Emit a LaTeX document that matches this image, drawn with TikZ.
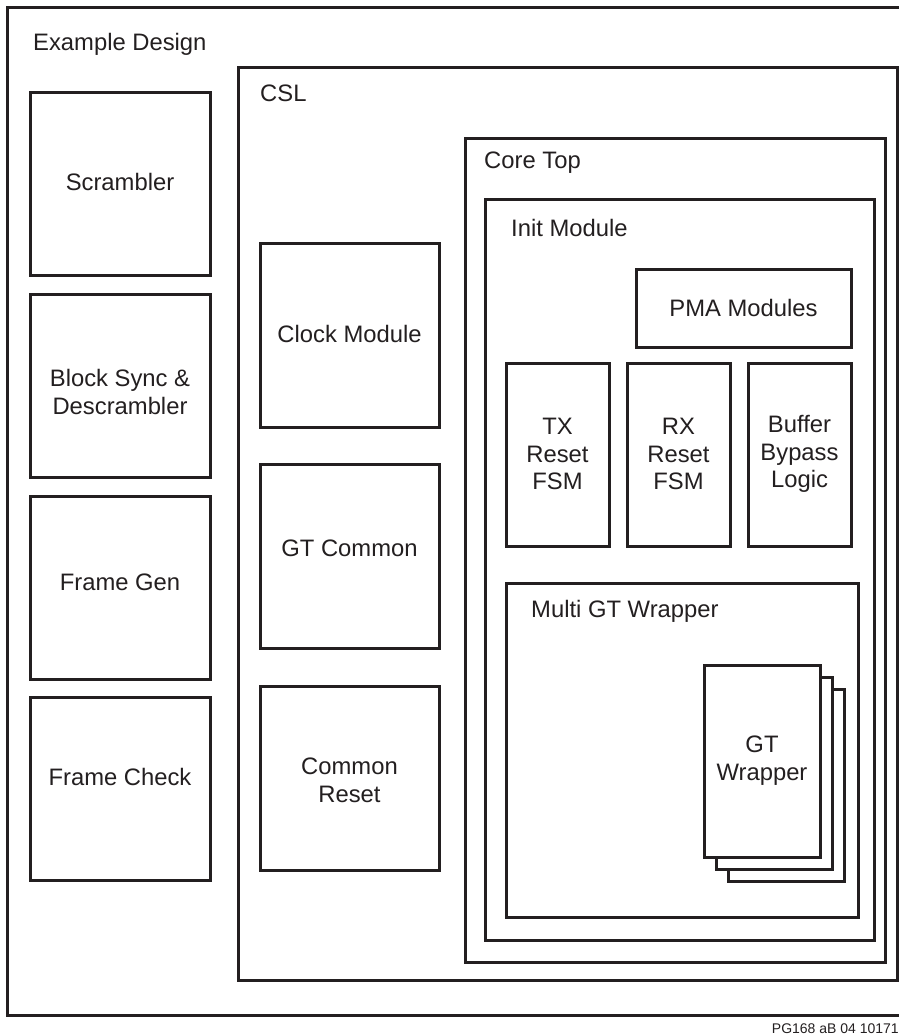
\documentclass[tikz,border=0pt]{standalone}
\usepackage{fontspec}
\setmainfont{Liberation Sans}
\definecolor{ink}{HTML}{231F20}
\begin{document}
\begin{tikzpicture}[x=1pt,y=-1pt,
  box/.style={draw=ink,line width=3pt,fill=white,inner sep=0pt},
  txt/.style={inner sep=0pt,align=center,text=ink,font=\fontsize{23.8}{27.8}\selectfont},
  lbl/.style={anchor=west,inner sep=0pt,text=ink,font=\fontsize{23.8}{27.8}\selectfont},
  tag/.style={anchor=east,inner sep=0pt,text=ink,font=\fontsize{14}{16}\selectfont}]
\useasboundingbox (0,0) rectangle (899,1036);
% outer Example Design frame (open at right edge)
\coordinate (edtr) at (905,7);
\coordinate (edbr) at (905,1015);
\draw[draw=ink,line width=3pt] (edtr) -- (7,7) -- (7,1015) -- (edbr);
\node[lbl] (edl) at (33,44) {Example Design};
% left column
\node[box,minimum width=180pt,minimum height=183pt] (scr) at (120,183.5) {};
\node[txt] (scrt) at (120,182) {Scrambler};
\node[box,minimum width=180pt,minimum height=183pt] (bs) at (120,385.5) {};
\node[txt] (bst) at (120,392) {Block Sync \&\\Descrambler};
\node[box,minimum width=180pt,minimum height=183pt] (fg) at (120,587.5) {};
\node[txt] (fgt) at (120,582) {Frame Gen};
\node[box,minimum width=180pt,minimum height=183pt] (fc) at (120,789) {};
\node[txt] (fct) at (120,777) {Frame Check};
% CSL
\node[box,minimum width=659pt,minimum height=913pt] (csl) at (567.5,523.5) {};
\node[lbl] (csll) at (260,93) {CSL};
\node[box,minimum width=179pt,minimum height=184pt] (clk) at (349.5,335) {};
\node[txt] (clkt) at (349.5,334) {Clock Module};
\node[box,minimum width=179pt,minimum height=184pt] (gtc) at (349.5,556) {};
\node[txt] (gtct) at (349.5,548) {GT Common};
\node[box,minimum width=179pt,minimum height=184pt] (cr) at (349.5,778) {};
\node[txt] (crt) at (349.5,780) {Common\\Reset};
% Core Top
\node[box,minimum width=420pt,minimum height=824pt] (ct) at (675,550) {};
\node[lbl] (ctl) at (484,163) {Core Top};
% Init Module
\node[box,minimum width=389pt,minimum height=741pt] (init) at (679.5,569.5) {};
\node[lbl] (initl) at (511,228) {Init Module};
\node[box,minimum width=215pt,minimum height=78pt] (pma) at (743.5,308) {};
\node[txt] (pmat) at (743.5,308) {PMA Modules};
\node[box,minimum width=103pt,minimum height=183pt] (tx) at (557.5,454.5) {};
\node[txt] (txt1) at (557.5,454) {TX\\Reset\\FSM};
\node[box,minimum width=103pt,minimum height=183pt] (rx) at (678.5,454.5) {};
\node[txt] (rxt) at (678.5,454) {RX\\Reset\\FSM};
\node[box,minimum width=103pt,minimum height=183pt] (buf) at (799.5,454.5) {};
\node[txt] (buft) at (799.5,454) {Buffer\\Bypass\\Logic};
% Multi GT Wrapper
\node[box,minimum width=352pt,minimum height=334pt] (mgt) at (682,750) {};
\node[lbl] (mgtl) at (531,611) {Multi GT Wrapper};
\node[box,minimum width=116pt,minimum height=192pt] (gt3) at (786,785) {};
\node[box,minimum width=116pt,minimum height=192pt] (gt2) at (774,773) {};
\node[box,minimum width=116pt,minimum height=192pt] (gt1) at (762,761) {};
\node[txt] (gt1t) at (762,761) {GT\\Wrapper};
% figure tag
\node[tag] (tagl) at (899,1029) {PG168 aB 04 10171};
\end{tikzpicture}
\end{document}
